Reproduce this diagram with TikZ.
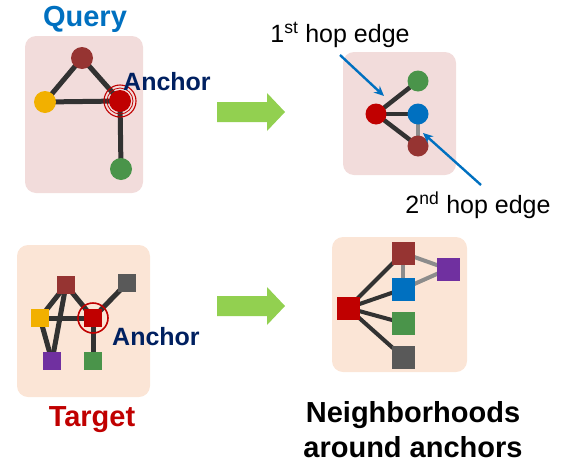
\documentclass[tikz,border=0pt]{standalone}
\usepackage{fontspec}
\setmainfont{Liberation Sans}
\usetikzlibrary{arrows.meta,backgrounds}
\definecolor{boxpink}{RGB}{242,220,219}
\definecolor{boxpeach}{RGB}{251,229,214}
\definecolor{nred}{RGB}{192,0,0}
\definecolor{nbrown}{RGB}{150,52,50}
\definecolor{nyellow}{RGB}{242,176,0}
\definecolor{ngreen}{RGB}{74,148,74}
\definecolor{nblue}{RGB}{0,112,192}
\definecolor{npurple}{RGB}{112,48,160}
\definecolor{ngray}{RGB}{89,89,89}
\definecolor{linkdark}{RGB}{50,50,50}
\definecolor{linklight}{RGB}{140,140,140}
\definecolor{arrowgreen}{RGB}{146,208,80}
\definecolor{anchorblue}{RGB}{0,32,96}
\tikzset{
  qdot/.style={circle, fill=#1, inner sep=0pt, minimum size=22pt},
  sqnode/.style 2 args={rectangle, fill=#1, inner sep=0pt, minimum size=#2},
  ring/.style={circle, draw=nred, line width=1.1pt, inner sep=0pt, minimum size=#1},
  link/.style={line width=#1, draw=linkdark},
  link2/.style={line width=#1, draw=linklight},
  title/.style={font=\fontsize{29}{35}\selectfont\bfseries, align=center},
  anchortext/.style={font=\fontsize{25}{30}\selectfont\bfseries, text=anchorblue, anchor=west, inner sep=0pt},
  hoptext/.style={font=\fontsize{25}{30}\selectfont, inner sep=0pt},
  hoparrow/.style={draw=nblue, line width=2.4pt, -{Stealth[length=10pt,width=9pt]}}
}
\begin{document}
\begin{tikzpicture}[x=1pt, y=-1pt]
\useasboundingbox (0,0) rectangle (564,474);

\node[title, text=nblue] (query) at (85,19) {Query};
\node[qdot=nbrown] (q1) at (82,58) {};
\node[qdot=nyellow] (q2) at (45,102) {};
\node[qdot=nred] (q3) at (120,101) {};
\node[qdot=ngreen] (q4) at (121,169) {};
\node[ring=32pt] (qring) at (q3) {};
\node[ring=26pt, line width=0.8pt] at (q3) {};
\node[anchortext] (qanchor) at (123,82) {Anchor};

\node[qdot=nred, minimum size=21pt] (h0) at (376,114) {};
\node[qdot=ngreen, minimum size=21pt] (h1) at (418,81) {};
\node[qdot=nblue, minimum size=21pt] (h2) at (418,114) {};
\node[qdot=nbrown, minimum size=21pt] (h3) at (418,146) {};
\node[hoptext] (hop1) at (340,35) {1\textsuperscript{st} hop edge};
\node[hoptext] (hop2) at (478,205) {2\textsuperscript{nd} hop edge};
\coordinate (p1s) at (340,55);
\coordinate (p1e) at (384,96);
\coordinate (p2s) at (481,185);
\coordinate (p2e) at (423,133);
\draw[hoparrow] (p1s) -- (p1e);
\draw[hoparrow] (p2s) -- (p2e);

\node[sqnode={nbrown}{18pt}] (t1) at (66,285) {};
\node[sqnode={ngray}{18pt}] (t2) at (127,283) {};
\node[sqnode={nyellow}{18pt}] (t3) at (40,318) {};
\node[sqnode={nred}{18pt}] (t4) at (93,318) {};
\node[sqnode={npurple}{18pt}] (t5) at (52,361) {};
\node[sqnode={ngreen}{18pt}] (t6) at (93,361) {};
\node[ring=30pt, line width=1.6pt] (tring) at (t4) {};
\node[anchortext] (tanchor) at (112,337) {Anchor};
\node[title, text=nred] (target) at (92,420) {Target};

\node[sqnode={nred}{23pt}] (n0) at (348,308) {};
\node[sqnode={nbrown}{23pt}] (n1) at (403,253) {};
\node[sqnode={nblue}{23pt}] (n2) at (403,289) {};
\node[sqnode={ngreen}{23pt}] (n3) at (403,323) {};
\node[sqnode={ngray}{23pt}] (n4) at (403,357) {};
\node[sqnode={npurple}{23pt}] (n5) at (448,269) {};
\node[title] (nbhd) at (413,430) {Neighborhoods\\around anchors};

\fill[arrowgreen] (217,102) -- (267,102) -- (267,93) -- (285,112) -- (267,131) -- (267,122) -- (217,122) -- cycle;
\fill[arrowgreen] (217,296) -- (267,296) -- (267,287) -- (285,306) -- (267,325) -- (267,316) -- (217,316) -- cycle;

\begin{pgfonlayer}{background}
\fill[boxpink, rounded corners=11pt] (25,36) rectangle (143,193);
\fill[boxpink, rounded corners=11pt] (343,52) rectangle (456,175);
\fill[boxpeach, rounded corners=11pt] (17,245) rectangle (150,397);
\fill[boxpeach, rounded corners=11pt] (332,237) rectangle (467,372);
\foreach \a/\b in {q1/q2, q1/q3, q2/q3, q3/q4}
  \draw[link=5pt] (\a.center) -- (\b.center);
\foreach \b in {h1, h2, h3}
  \draw[link=4.5pt] (h0.center) -- (\b.center);
\draw[link2=4.5pt] (h2.center) -- (h3.center);
\foreach \a/\b in {t1/t3, t1/t4, t1/t5, t3/t4, t3/t5, t4/t2, t4/t6}
  \draw[link=5pt] (\a.center) -- (\b.center);
\foreach \b in {n1, n2, n3, n4}
  \draw[link=4pt] (n0.center) -- (\b.center);
\foreach \a/\b in {n1/n2, n1/n5, n2/n5}
  \draw[link2=4pt] (\a.center) -- (\b.center);
\end{pgfonlayer}
\end{tikzpicture}
\end{document}
